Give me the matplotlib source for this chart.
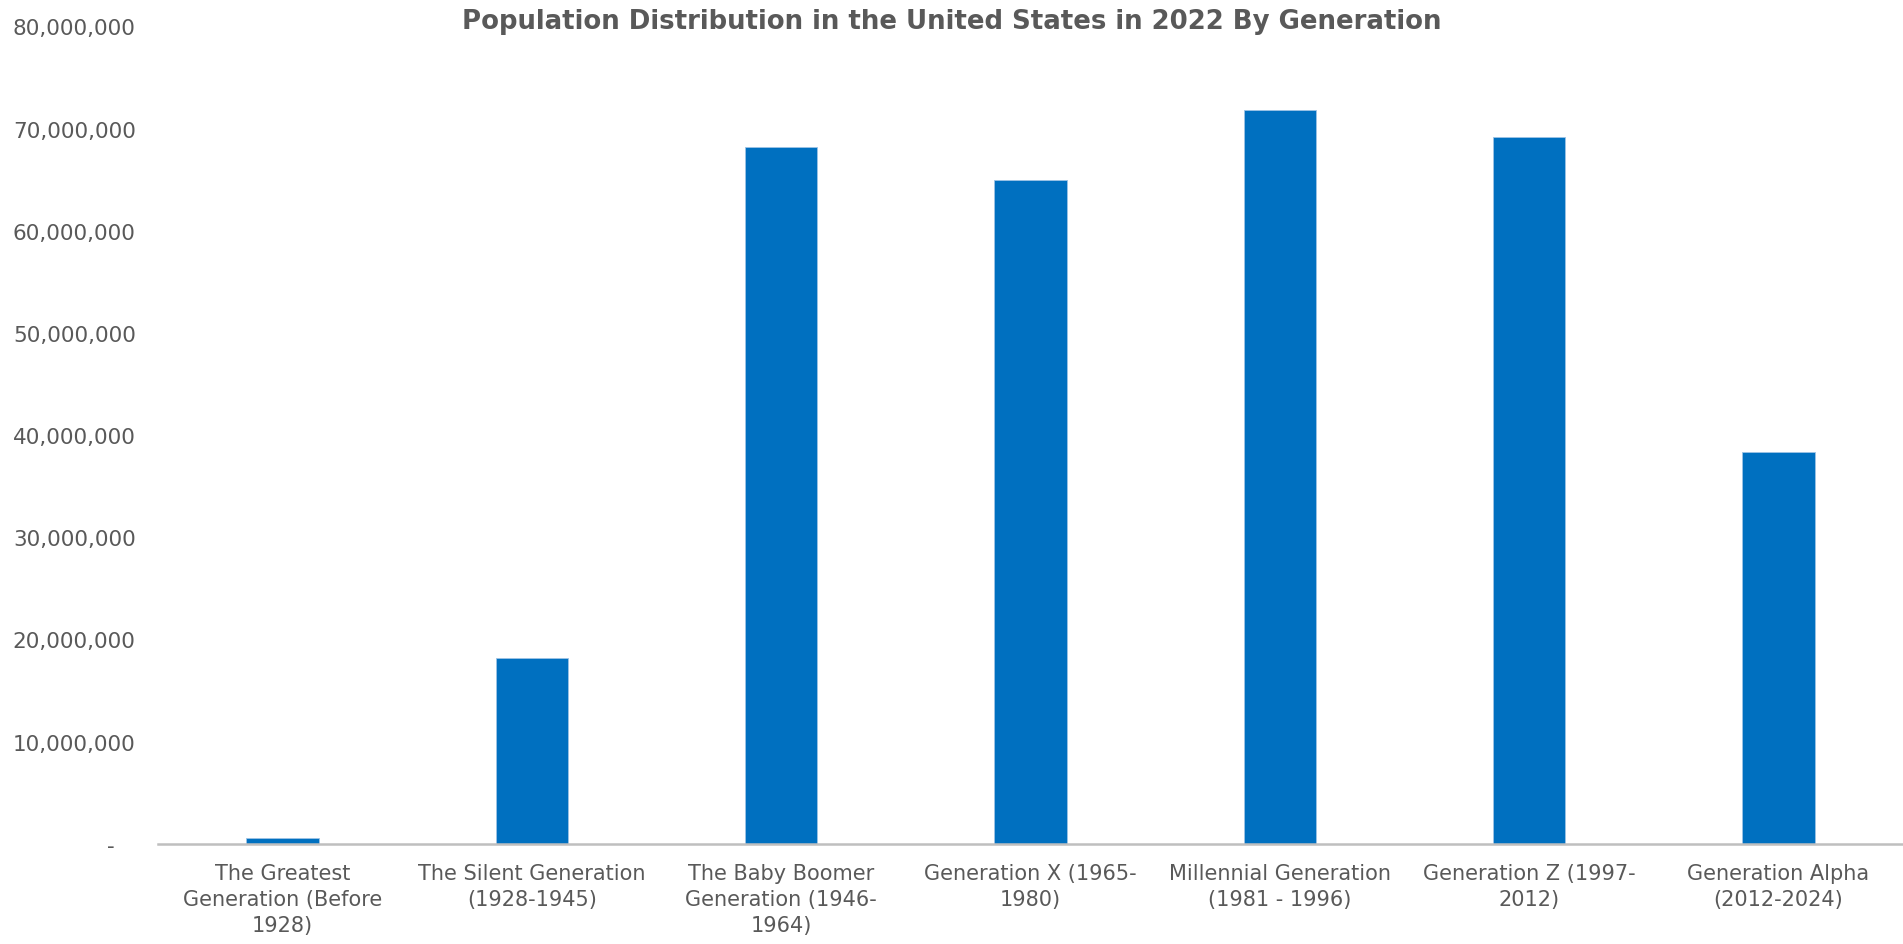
import matplotlib
matplotlib.use("Agg")
import matplotlib.pyplot as plt
from matplotlib.ticker import FuncFormatter, MultipleLocator

generations = [
    "The Greatest\nGeneration (Before\n1928)",
    "The Silent Generation\n(1928-1945)",
    "The Baby Boomer\nGeneration (1946-\n1964)",
    "Generation X (1965-\n1980)",
    "Millennial Generation\n(1981 - 1996)",
    "Generation Z (1997-\n2012)",
    "Generation Alpha\n(2012-2024)",
]
population = [600000, 18160000, 68200000, 65000000, 71800000, 69200000, 38300000]

title = "Population Distribution in the United States in 2022 By Generation"

fig = plt.figure(figsize=(19.03, 9.45), dpi=100)
ax = fig.add_axes([0.083, 0.106, 0.917, 0.865])

x = range(len(generations))
ax.bar(x, population, width=0.29, color="#0070c0", edgecolor="#9dc3e6", linewidth=0.6)

ax.set_xlim(-0.5, len(generations) - 0.5)
ax.set_ylim(0, 80000000)
ax.yaxis.set_major_locator(MultipleLocator(10000000))


def fmt(v, pos):
    if v == 0:
        return "-   "
    return f"{int(v):,}"


ax.yaxis.set_major_formatter(FuncFormatter(fmt))
ax.set_xticks(list(x))
ax.set_xticklabels(generations, fontsize=15, color="#595959", linespacing=1.38)
ax.tick_params(axis="x", length=0, pad=14)
ax.tick_params(axis="y", length=0, pad=16, labelsize=15.5, labelcolor="#595959")

for s in ["top", "right", "left"]:
    ax.spines[s].set_visible(False)
ax.spines["bottom"].set_color("#bfbfbf")
ax.spines["bottom"].set_linewidth(1.8)

fig.text(0.5, 0.977, title, ha="center", va="center", fontsize=18.7,
         fontweight="bold", color="#595959")

fig.savefig("out.png", dpi=100)
